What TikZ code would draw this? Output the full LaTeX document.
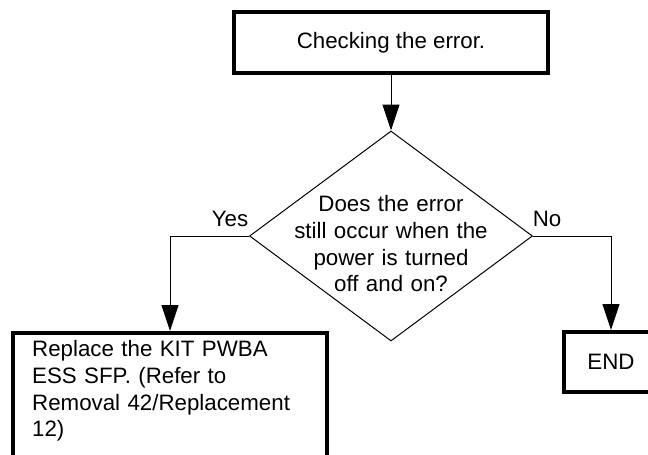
\documentclass[tikz,border=0pt]{standalone}
\usepackage{fontspec}
\setmainfont{Liberation Sans}
\usetikzlibrary{shapes.geometric,arrows.meta}
\begin{document}
\begin{tikzpicture}[x=1pt,y=-1pt,
  font=\fontsize{22.3}{26.7}\selectfont,
  boxstyle/.style={draw,line width=4pt,inner sep=0pt},
  decision/.style={draw,diamond,line width=1pt,inner sep=0pt,minimum width=283,minimum height=210},
  flow/.style={line width=1pt,-{Triangle[length=26pt,width=17pt]}},
  lbl/.style={inner sep=0pt,anchor=base}
]
\useasboundingbox (0,0) rectangle (648,455);
\clip (0,0) rectangle (648,455);
\node[boxstyle,minimum width=314,minimum height=61] (check) at (391,42.5) {Checking the error.};
\node[decision] (q) at (391,236) {};
\node[inner sep=0pt,anchor=base,text width=240pt,align=center] (qtext) at (391,211.7)
  {Does the error\\still occur when the\\power is turned\\off and on?};
\node[boxstyle,minimum width=314,minimum height=147] (repl) at (170,406.5) {};
\node[inner sep=0pt,anchor=base west,text width=290pt,align=left] (repltext) at (32,356.7)
  {Replace the KIT PWBA\\ESS SFP. (Refer to\\Removal 42/Replacement\\12)};
\node[boxstyle,minimum width=94,minimum height=60] (end) at (611,362) {END};
\node[lbl] (yes) at (230,226) {Yes};
\node[lbl] (no) at (547,226) {No};
\draw[flow] (check.south) -- (q.north);
\draw[flow] (q.west) -| (repl.north);
\draw[flow] (q.east) -| (end.north);
\end{tikzpicture}
\end{document}
